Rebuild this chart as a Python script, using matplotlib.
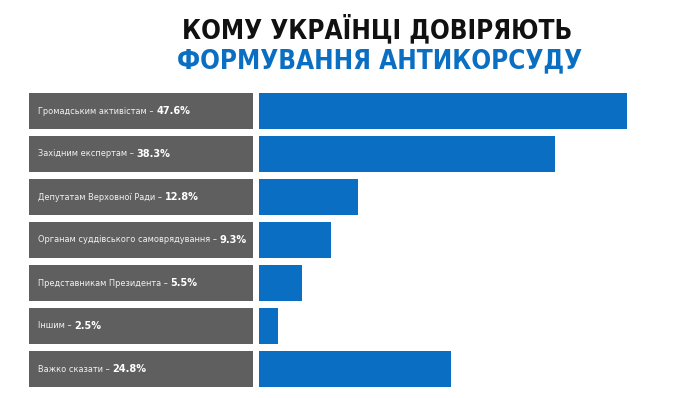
import matplotlib
matplotlib.use('Agg')
import matplotlib.pyplot as plt

# survey categories and shares (%)
labels = [
    "Громадським активістам",
    "Західним експертам",
    "Депутатам Верховної Ради",
    "Органам суддівського самоврядування",
    "Представникам Президента",
    "Іншим",
    "Важко сказати",
]
values = [47.6, 38.3, 12.8, 9.3, 5.5, 2.5, 24.8]

title_line1 = "КОМУ УКРАЇНЦІ ДОВІРЯЮТЬ"
title_line2 = "ФОРМУВАННЯ АНТИКОРСУДУ"

BLUE = "#0a6fc2"
GREY = "#5f5f5f"
W, H = 690, 398

fig = plt.figure(figsize=(W / 100, H / 100), dpi=100)
fig.patch.set_facecolor("white")

# axes positions in pixels: grey label boxes and blue bars
y_top, y_bot = 90, 390
ax_l = fig.add_axes([29 / W, (H - y_bot) / H, (253 - 29) / W, (y_bot - y_top) / H])
ax_r = fig.add_axes([259 / W, (H - y_bot) / H, (W - 259) / W, (y_bot - y_top) / H])

n = len(labels)
pos = list(range(n))
bar_h = 36 / 43
ylim = (n - 1 + 21 / 43, -21 / 43)

ax_l.barh(pos, [1] * n, height=bar_h, color=GREY)
ax_l.set_xlim(0, 1)
ax_r.barh(pos, values, height=bar_h, color=BLUE)
ax_r.set_xlim(0, (W - 259) / 7.73)

for ax in (ax_l, ax_r):
    ax.set_ylim(*ylim)
    ax.axis("off")

for i, (lab, v) in enumerate(zip(labels, values)):
    t = ax_l.text(9 / 224, i, f"{lab} – ", color="#f2f2f2", fontsize=6.6,
                  family="DejaVu Sans", fontstretch="condensed", va="center", ha="left")
    ax_l.annotate(f"{v}%", xy=(1, 0.5), xycoords=t, va="center", ha="left",
                  color="white", fontsize=7.8, family="DejaVu Sans",
                  fontstretch="condensed", fontweight="bold")

fig.text(377.5 / W, 1 - 38 / H, title_line1, ha="center", va="baseline",
         fontsize=18.7, fontweight="bold", family="DejaVu Sans", fontstretch="condensed",
         color="#111111")
fig.text(379.5 / W, 1 - 68 / H, title_line2, ha="center", va="baseline",
         fontsize=18.7, fontweight="bold", family="DejaVu Sans", fontstretch="condensed",
         color=BLUE)

fig.savefig("out.png", dpi=100)
